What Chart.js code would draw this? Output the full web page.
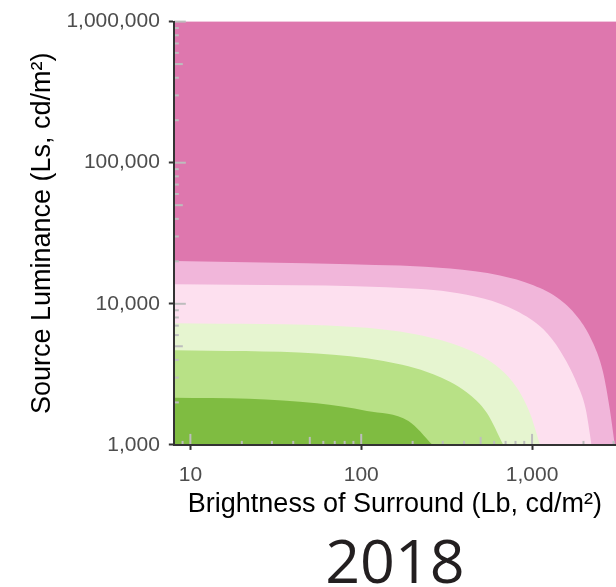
<!DOCTYPE html>
<html>
<head>
<meta charset="utf-8">
<script src="https://cdn.jsdelivr.net/npm/chart.js@4"></script>
<style>
  html, body { margin: 0; padding: 0; background: #fff; }
  #wrap { width: 616px; height: 587px; }
</style>
</head>
<body>
<div id="wrap"><canvas id="grafico" width="616" height="587"></canvas></div>
<script>
// Bordes de cada banda: luminancia del entorno (Lb) y de la fuente (Ls), cd/m2
const borde1Lb = [8, 22, 55, 108, 189, 262];
const borde1Ls = [2160, 2120, 1970, 1740, 1480, 1000];

const borde2Lb = [8, 55, 135, 264, 414, 543, 679];
const borde2Ls = [4690, 4450, 3940, 3170, 2360, 1690, 1000];

const borde3Lb = [8, 86, 211, 414, 649, 813, 973, 1114];
const borde3Ls = [7280, 6890, 6070, 4780, 3470, 2550, 1670, 1000];

const borde4Lb = [8, 211, 519, 813, 1165, 1459, 1827, 2060, 2230];
const borde4Ls = [13750, 12800, 10920, 8900, 6600, 4650, 2750, 1800, 1000];

const borde5Lb = [8, 86, 331, 649, 1018, 1459, 1910, 2286, 2600, 2850, 3050];
const borde5Ls = [20140, 19050, 17800, 15900, 13550, 10700, 7650, 5200, 3300, 1800, 1000];

// Etiquetas de los ejes
const xTicks = [10, 100, 1000];
const yTicks = [1000, 10000, 100000, 1000000];

// Paleta PiYG: de verde (bajo) a rosa (alto)
const colores = ['#7fbc41', '#b8e186', '#e6f5d0', '#fde0ef', '#f1b6da', '#de77ae'];

const bordes = [
  [borde1Lb, borde1Ls],
  [borde2Lb, borde2Ls],
  [borde3Lb, borde3Ls],
  [borde4Lb, borde4Ls],
  [borde5Lb, borde5Ls]
];

// La banda más baja va primero para quedar encima de las demás
const datasets = bordes.map(([lb, ls], i) => ({
  data: lb.map((x, k) => ({ x: x, y: ls[k] })),
  backgroundColor: colores[i],
  borderWidth: 0,
  pointRadius: 0,
  fill: 'start',
  cubicInterpolationMode: 'monotone'
}));

// Fondo del área de trazado = banda superior
const fondo = {
  id: 'fondo',
  beforeDatasetsDraw(chart) {
    const { ctx, chartArea: a } = chart;
    ctx.save();
    ctx.fillStyle = colores[5];
    ctx.fillRect(a.left, a.top, a.right - a.left, a.bottom - a.top);
    ctx.restore();
  }
};

// Marcas logarítmicas dentro del área (1 largo, 5 medio, resto corto)
const marcasLog = {
  id: 'marcasLog',
  afterDatasetsDraw(chart) {
    const { ctx, chartArea: a, scales: { x, y } } = chart;
    const largo = m => (m === 1 ? 11 : m === 5 ? 8 : 4);
    ctx.save();
    ctx.strokeStyle = '#bdbdbd';
    ctx.lineWidth = 2;
    for (let e = 0; e <= 6; e++) {
      for (let m = 1; m <= 9; m++) {
        const v = m * Math.pow(10, e);
        if (v > x.min && v <= x.max) {
          const px = x.getPixelForValue(v);
          ctx.beginPath();
          ctx.moveTo(px, a.bottom);
          ctx.lineTo(px, a.bottom - largo(m));
          ctx.stroke();
        }
        if (v > y.min && v <= y.max) {
          const py = y.getPixelForValue(v);
          ctx.beginPath();
          ctx.moveTo(a.left, py);
          ctx.lineTo(a.left + largo(m) + 1, py);
          ctx.stroke();
        }
      }
    }
    ctx.restore();
  }
};

const fuenteTicks = { family: 'Liberation Sans', size: 21 };
const fuenteTitulo = { family: 'Liberation Sans', size: 27 };

new Chart(document.getElementById('grafico'), {
  type: 'line',
  data: { datasets: datasets },
  options: {
    responsive: false,
    animation: false,
    layout: { padding: { left: 10, right: 0, top: 20, bottom: 0 } },
    plugins: {
      legend: { display: false },
      tooltip: { enabled: false },
      title: {
        display: true,
        text: '2018',
        position: 'bottom',
        fullSize: false,
        color: '#231f20',
        font: { family: 'Open Sans', size: 61, weight: 'normal', lineHeight: 0.5 },
        padding: { top: 30, bottom: 6 }
      }
    },
    scales: {
      x: {
        type: 'logarithmic',
        min: 8,
        max: 3100,
        afterBuildTicks: s => { s.ticks = xTicks.map(v => ({ value: v })); },
        ticks: {
          callback: v => Number(v).toLocaleString('en-US'),
          color: '#4d4d4d',
          font: fuenteTicks,
          padding: 13,
          maxRotation: 0,
          autoSkip: false
        },
        grid: { drawOnChartArea: false, drawTicks: true, tickLength: 5, tickColor: '#333333', tickWidth: 2 },
        border: { display: true, color: '#333333', width: 2, z: 1 },
        title: {
          display: true,
          text: 'Brightness of Surround (Lb, cd/m²)',
          color: '#000',
          font: fuenteTitulo,
          padding: { top: -13, bottom: 0 }
        }
      },
      y: {
        type: 'logarithmic',
        min: 1000,
        max: 1000000,
        afterBuildTicks: s => { s.ticks = yTicks.map(v => ({ value: v })); },
        ticks: {
          callback: v => Number(v).toLocaleString('en-US'),
          color: '#4d4d4d',
          font: fuenteTicks,
          padding: 9,
          autoSkip: false
        },
        grid: { drawOnChartArea: false, drawTicks: true, tickLength: 5, tickColor: '#333333', tickWidth: 2 },
        border: { display: true, color: '#333333', width: 2, z: 1 },
        title: {
          display: true,
          text: 'Source Luminance (Ls, cd/m²)',
          color: '#000',
          font: fuenteTitulo,
          padding: { top: 16, bottom: -1 }
        }
      }
    }
  },
  plugins: [fondo, marcasLog]
});
</script>
</body>
</html>
